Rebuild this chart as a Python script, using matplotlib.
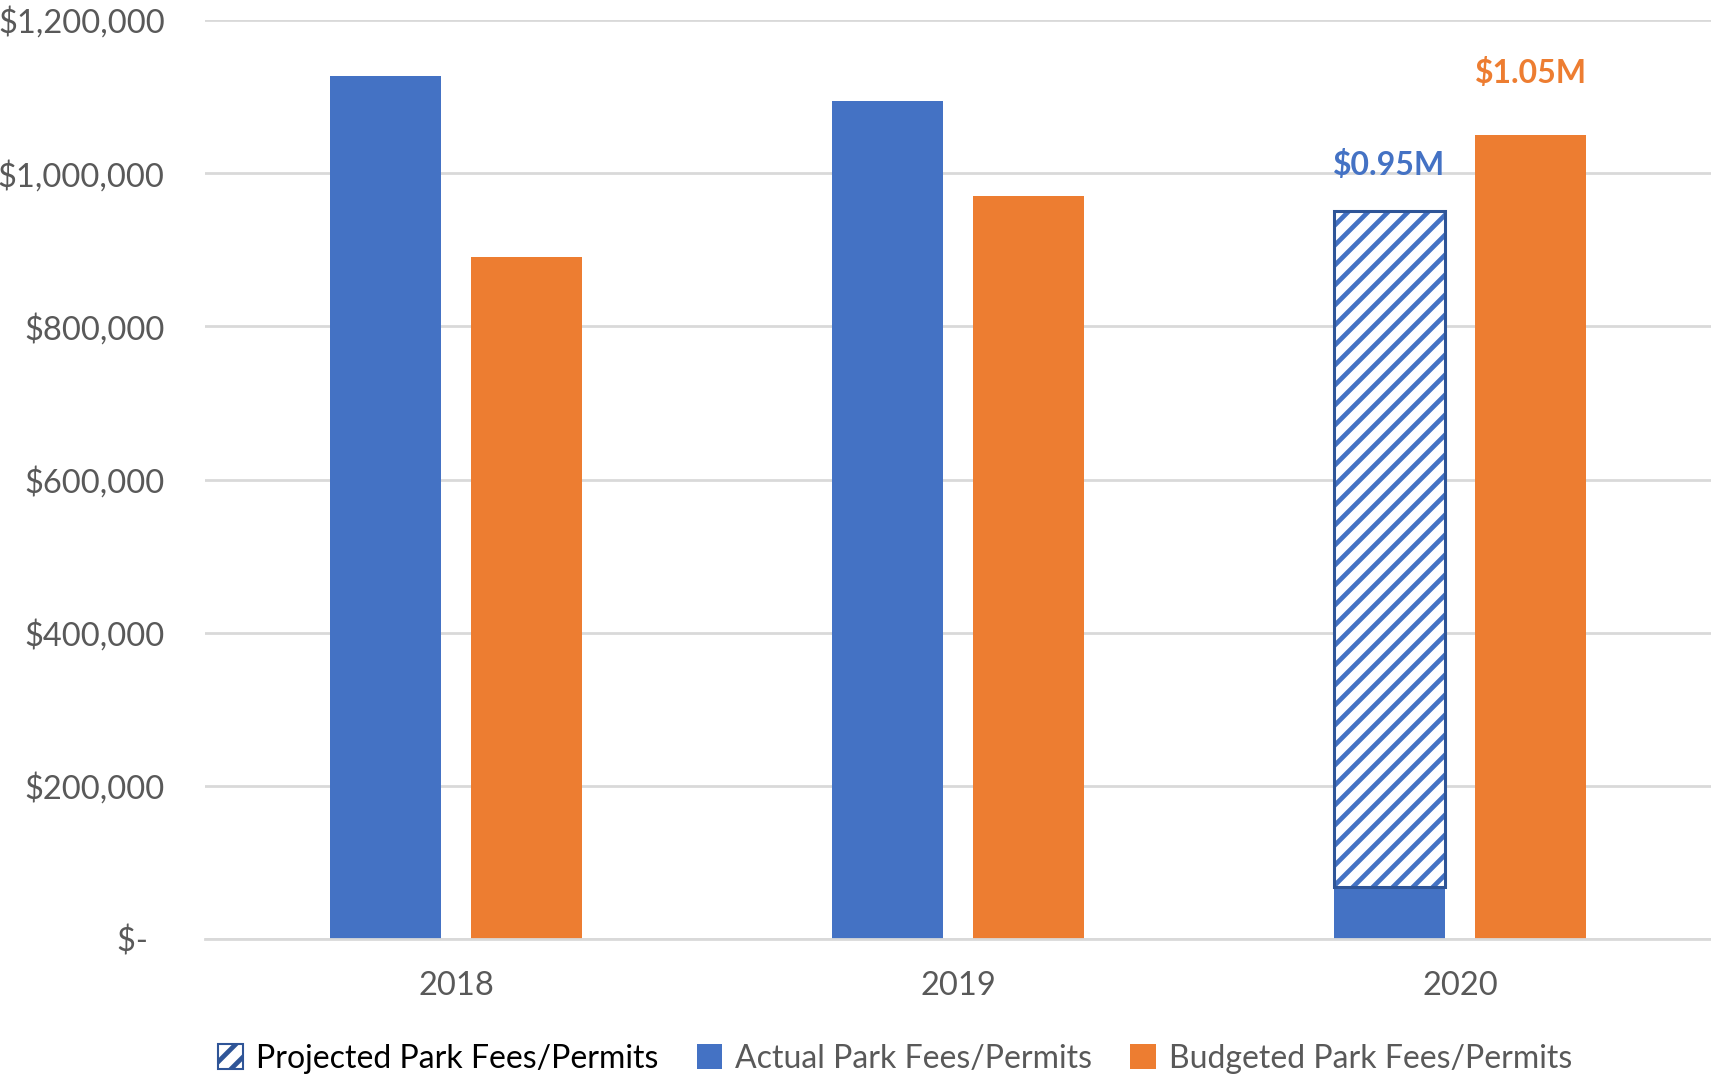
import matplotlib
matplotlib.use('Agg')
import matplotlib.pyplot as plt
from matplotlib.patches import Patch
from matplotlib.ticker import FuncFormatter
from matplotlib.backend_bases import GraphicsContextBase
import numpy as np

plt.rcParams['font.family'] = ['Lato', 'DejaVu Sans']
plt.rcParams['hatch.linewidth'] = 3.4

# tighter stripe spacing than the default hatch density
_hatch_path = GraphicsContextBase.get_hatch_path
GraphicsContextBase.get_hatch_path = lambda self, density=10.0: _hatch_path(self, density)

years = ['2018', '2019', '2020']
actual = [1127000, 1094000, 68000]
budgeted = [890000, 970000, 1050000]
projected_2020 = 950000

BLUE = '#4472C4'
DARK_BLUE = '#2F5597'
ORANGE = '#ED7D31'
GRAY = '#595959'
GRID = '#D9D9D9'


def money(v, pos=None):
    if v == 0:
        return '$-  '
    return '${:,.0f}'.format(v)


fig = plt.figure(figsize=(17.11, 10.77), dpi=100)
ax = fig.add_axes([0.1198, 0.1281, 0.8802, 0.8533])

x = np.arange(len(years))
w = 0.221
off = 0.141

ax.bar(x - off, actual, width=w, color=BLUE, zorder=3)
ax.bar(x + off, budgeted, width=w, color=ORANGE, zorder=3)

# projected remainder of 2020 sits on top of the actual-to-date bar
proj_h = projected_2020 - actual[2]
ax.bar(x[2] - off, proj_h, bottom=actual[2], width=w, color='white',
       edgecolor=BLUE, hatch='/', linewidth=0, zorder=3)
ax.bar(x[2] - off, proj_h, bottom=actual[2], width=w, fill=False,
       edgecolor=DARK_BLUE, linewidth=2.2, zorder=4)

ax.text(x[2] - off, projected_2020 + 48000, '${:.2f}M'.format(projected_2020 / 1e6),
        ha='center', va='baseline', color=BLUE, fontsize=23, fontweight='bold')
ax.text(x[2] + off, budgeted[2] + 68000, '${:.2f}M'.format(budgeted[2] / 1e6),
        ha='center', va='baseline', color=ORANGE, fontsize=23, fontweight='bold')

ax.set_xlim(-0.5, 2.5)
ax.set_ylim(0, 1200000)
ax.set_yticks(np.arange(0, 1200001, 200000))
ax.yaxis.set_major_formatter(FuncFormatter(money))
ax.set_xticks(x)
ax.set_xticklabels(years)
ax.tick_params(axis='both', length=0, labelsize=23.5, colors=GRAY)
ax.tick_params(axis='y', pad=29)
ax.tick_params(axis='x', pad=23)
ax.grid(axis='y', color=GRID, linewidth=2, zorder=0)
for s in ['top', 'right', 'left']:
    ax.spines[s].set_visible(False)
ax.spines['bottom'].set_color(GRID)
ax.spines['bottom'].set_linewidth(2)
ax.spines['bottom'].set_zorder(5)

handles = [
    Patch(facecolor='white', edgecolor=DARK_BLUE, hatch='/', linewidth=1.5,
          label='Projected Park Fees/Permits'),
    Patch(facecolor=BLUE, label='Actual Park Fees/Permits'),
    Patch(facecolor=ORANGE, label='Budgeted Park Fees/Permits'),
]
leg = fig.legend(handles=handles, loc='center', bbox_to_anchor=(0.523, 0.017),
                 ncol=3, frameon=False, fontsize=23, handlelength=0.8,
                 handleheight=0.8, handletextpad=0.4, columnspacing=1.2)
for t, c in zip(leg.get_texts(), ['black', GRAY, GRAY]):
    t.set_color(c)

fig.savefig('out.png', dpi=100)
